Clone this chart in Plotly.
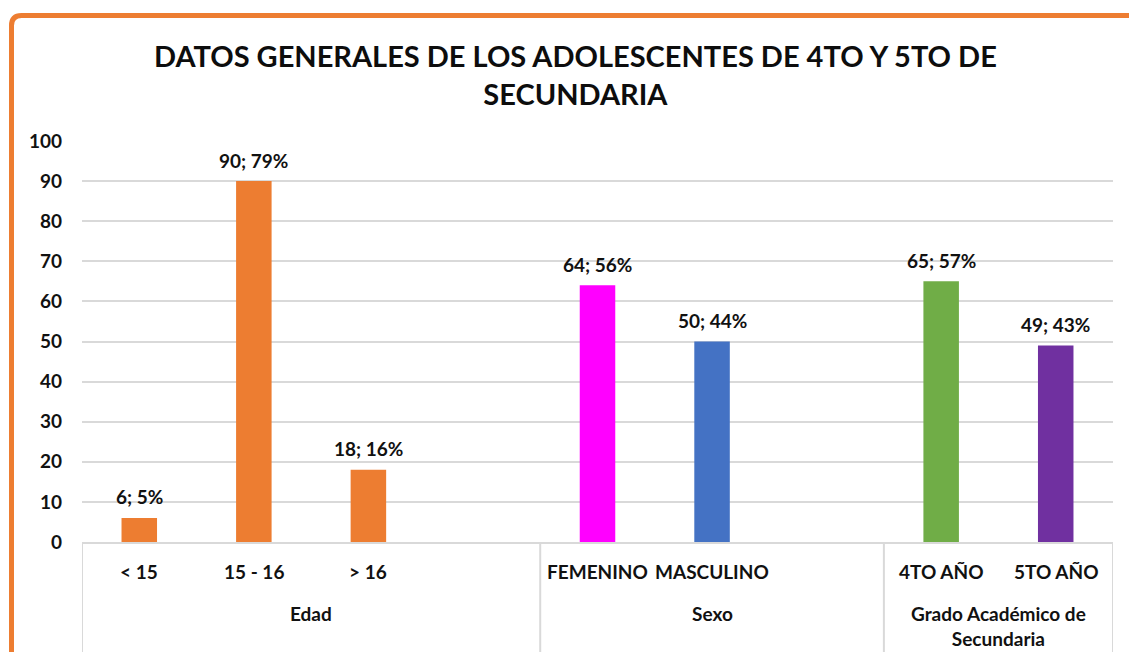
import plotly.graph_objects as go

# ---- data ----
groups = ["Edad", "Sexo", "Grado Académico de<br>Secundaria"]
group_categories = [["< 15", "15 - 16", "> 16"],
                    ["FEMENINO", "MASCULINO"],
                    ["4TO AÑO", "5TO AÑO"]]
group_slots = [4, 3, 2]          # Excel category slots per group (incl. blank slot)
counts = [6, 90, 18, 64, 50, 65, 49]
percents = [5, 79, 16, 56, 44, 57, 43]
bar_colors = ["#ED7D31", "#ED7D31", "#ED7D31",
              "#FF00FF", "#4472C4",
              "#70AD47", "#7030A0"]
y_ticks = [0, 10, 20, 30, 40, 50, 60, 70, 80, 90, 100]
title_text = "DATOS GENERALES DE LOS ADOLESCENTES DE 4TO Y 5TO DE<br>SECUNDARIA"

FONT = "Lato, 'Open Sans', Arial, sans-serif"
TXT = "#111111"
GRID = "#D9D9D9"

# slot positions derived from the group structure
xs, cat_names, boundaries, centers = [], [], [-0.5], []
start = 0
for cats, nslot in zip(group_categories, group_slots):
    for j, c in enumerate(cats):
        xs.append(start + j)
        cat_names.append(c)
    centers.append(start - 0.5 + nslot / 2)
    start += nslot
    boundaries.append(start - 0.5)
n_slots = start

labels = [f"{c}; {p}%" for c, p in zip(counts, percents)]

W, H = 1129, 652
ml, mr, mt, mb = 82, 16, 141, 110
pw, ph = W - ml - mr, H - mt - mb

fig = go.Figure()
fig.add_trace(go.Bar(
    x=xs, y=counts,
    marker=dict(color=bar_colors, line=dict(width=0)),
    hoverinfo="skip",
))

annotations = []
# data labels
for x, c, t in zip(xs, counts, labels):
    annotations.append(dict(x=x, y=c, xref="x", yref="y", text=t, showarrow=False,
                            yanchor="middle", yshift=21,
                            font=dict(family=FONT, size=19, color=TXT, weight="bold")))
# category labels
for x, t in zip(xs, cat_names):
    annotations.append(dict(x=x, y=-(571 - (H - mb)) / ph, xref="x", yref="paper", text=t,
                            showarrow=False, yanchor="middle",
                            font=dict(family=FONT, size=19, color=TXT, weight="bold")))
# group labels
for x, g in zip(centers, groups):
    annotations.append(dict(x=x, y=-(612 - (H - mb)) / ph, xref="x", yref="paper", text=g,
                            showarrow=False, yanchor="top", yshift=12,
                            font=dict(family=FONT, size=19, color=TXT, weight="bold")))
# title (positioned in plot-area paper coordinates)
annotations.append(dict(x=(575 - ml) / pw, y=(H - mb - 74.5) / ph, xref="paper", yref="paper",
                        text=title_text, showarrow=False, xanchor="center", yanchor="middle",
                        font=dict(family=FONT, size=29, color="#0d0d0d", weight="bold")))

shapes = []
# group divider lines below the axis
for b in boundaries:
    shapes.append(dict(type="line", xref="x", yref="paper", x0=b, x1=b, y0=0, y1=-(mb + 5) / ph,
                       line=dict(color=GRID, width=2)))

# orange outer chart border (top and left edges, rounded corner)
bx = (11.5 - ml) / pw
by = (H - mb - 15.5) / ph
r = 10 / pw
ry = 10 / ph
shapes.append(dict(type="path", xref="paper", yref="paper",
                   path=f"M {bx},-0.5 L {bx},{by - ry} Q {bx},{by} {bx + r},{by} L 1.1,{by}",
                   line=dict(color="#ED7D31", width=5), layer="above"))

fig.update_layout(
    width=W, height=H,
    margin=dict(l=ml, r=mr, t=mt, b=mb, autoexpand=False),
    paper_bgcolor="white", plot_bgcolor="white",
    showlegend=False,
    bargap=0.69,
    annotations=annotations,
    shapes=shapes,
    font=dict(family=FONT, color=TXT),
)
fig.update_yaxes(range=[0, 100], tickvals=y_ticks, showgrid=True, gridcolor=GRID, gridwidth=2,
                 zeroline=False, showline=False, ticks="", ticklabelstandoff=19, automargin=False,
                 tickfont=dict(family=FONT, size=19, color=TXT, weight="bold"))
fig.update_xaxes(range=[-0.5, n_slots - 0.5], showticklabels=False, showgrid=False, zeroline=False,
                 showline=True, linecolor=GRID, linewidth=2, ticks="", automargin=False)

fig.write_html("out.html", config={"displayModeBar": False},
               post_script="document.body.style.margin='0';")
